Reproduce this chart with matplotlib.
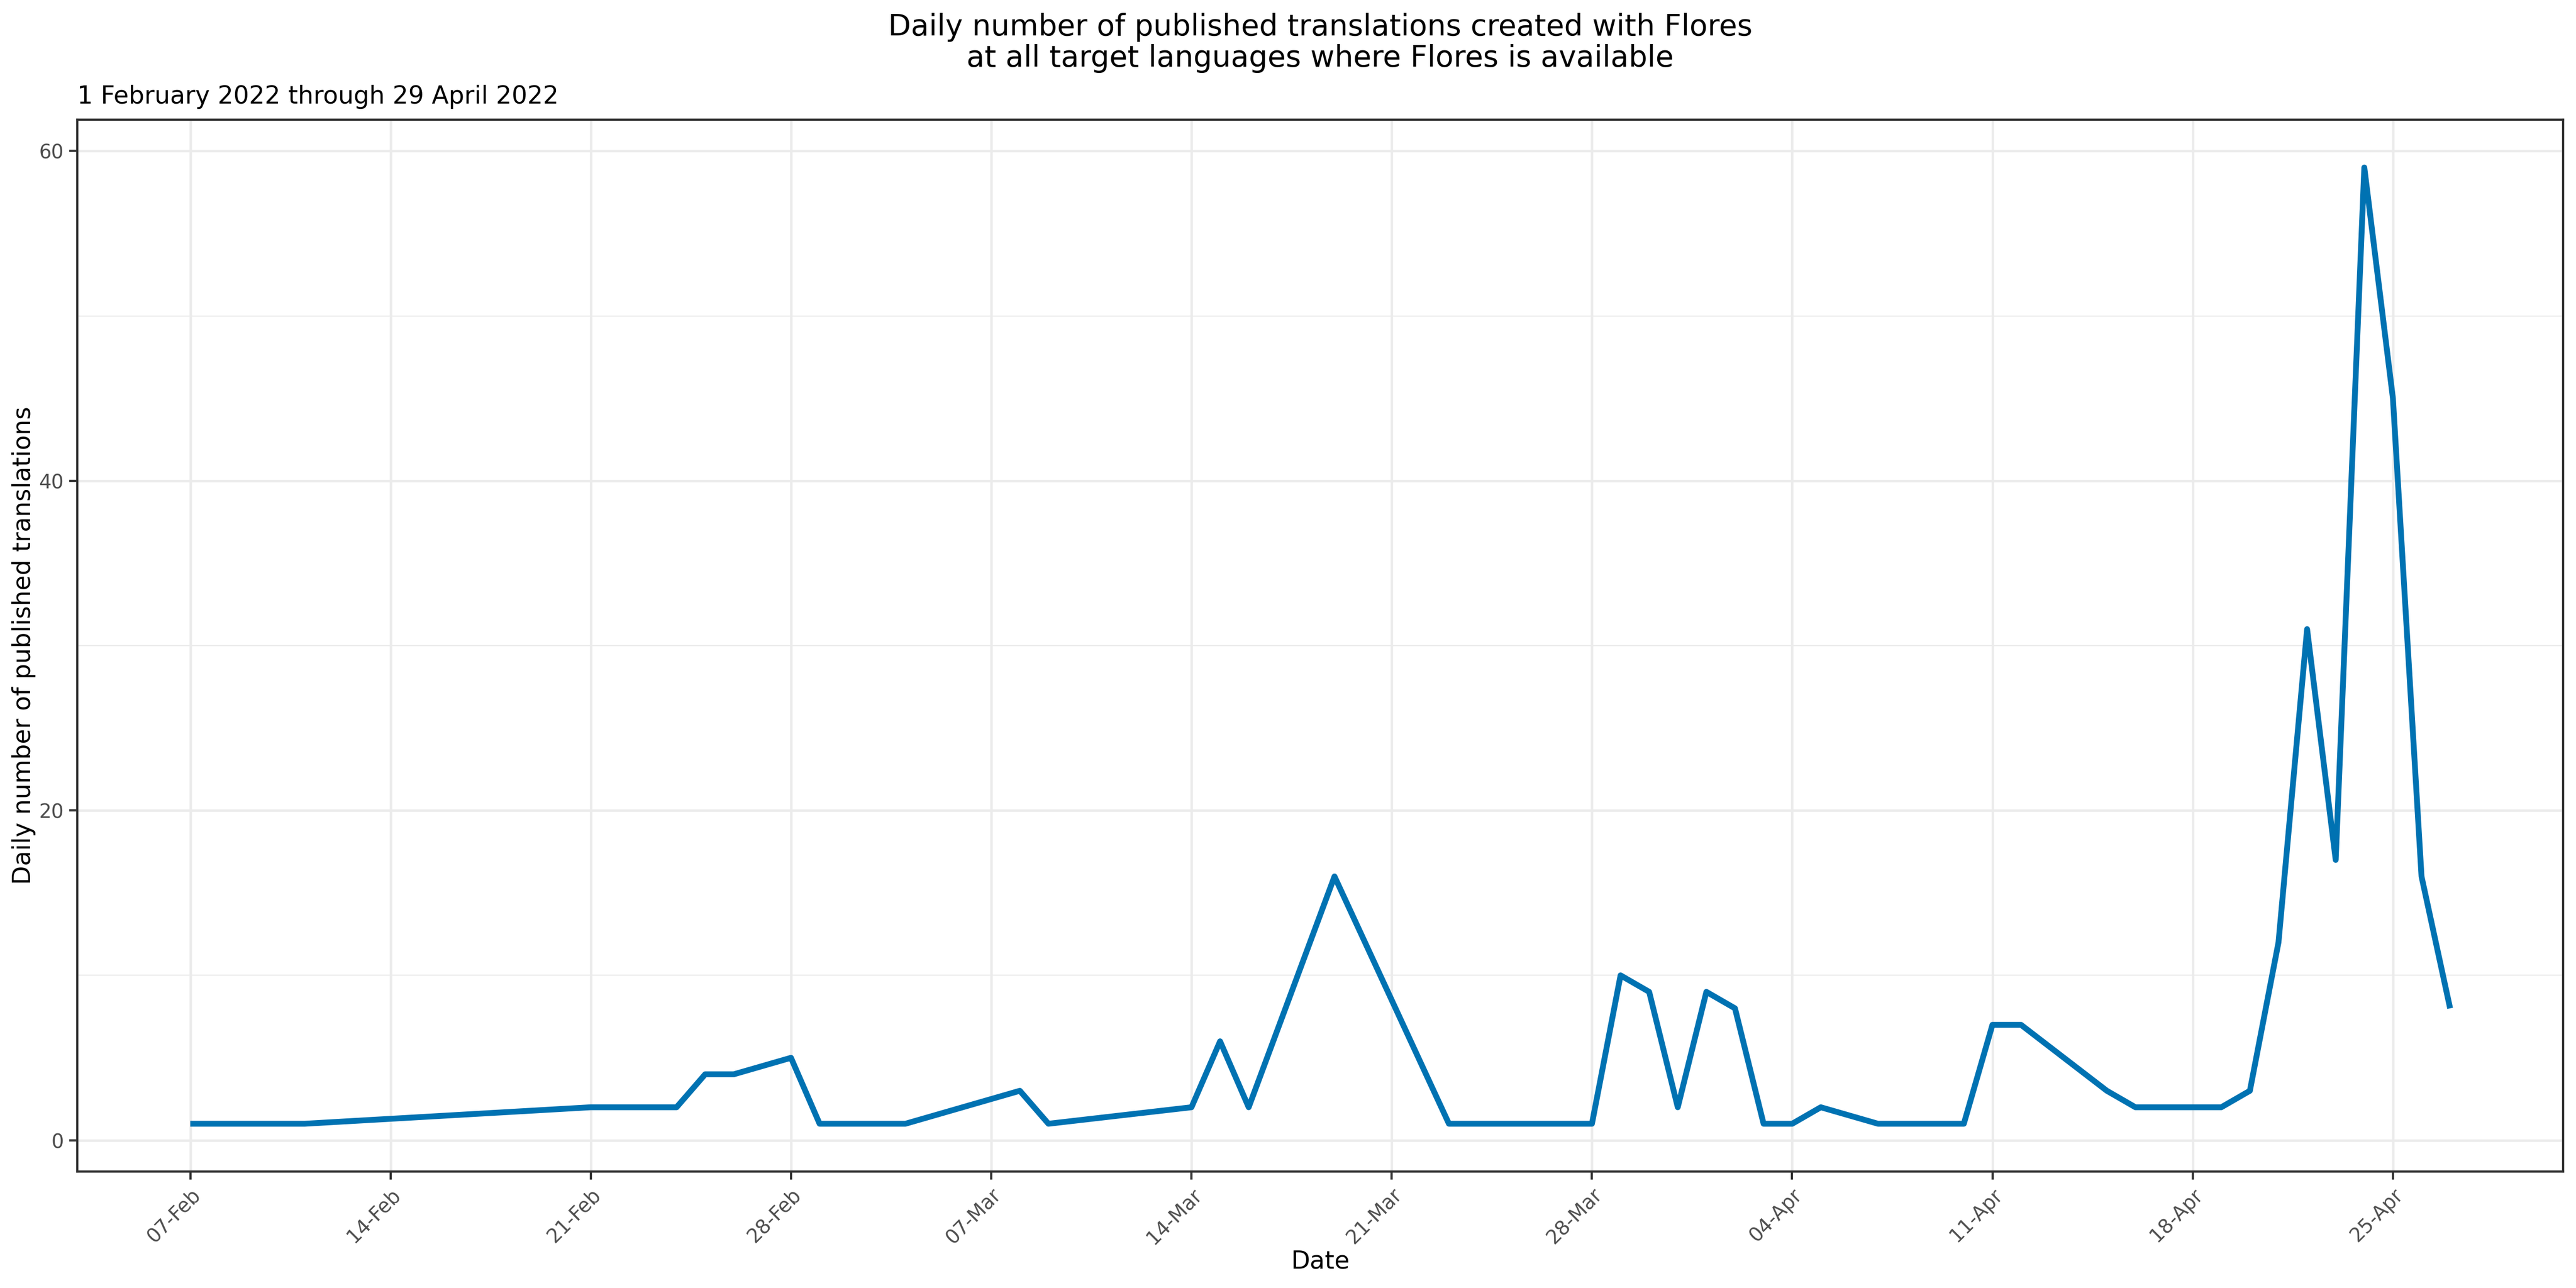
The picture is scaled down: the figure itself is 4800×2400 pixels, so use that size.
import datetime as dt

import matplotlib
matplotlib.use("Agg")
import matplotlib.pyplot as plt
import matplotlib.dates as mdates
from matplotlib.ticker import FixedLocator

# Observed daily counts (vertices of the line), 2022
dates = [
    "2022-02-07", "2022-02-11", "2022-02-21", "2022-02-24", "2022-02-25",
    "2022-02-26", "2022-02-28", "2022-03-01", "2022-03-04", "2022-03-08",
    "2022-03-09", "2022-03-14", "2022-03-15", "2022-03-16", "2022-03-19",
    "2022-03-23", "2022-03-28", "2022-03-29", "2022-03-30", "2022-03-31",
    "2022-04-01", "2022-04-02", "2022-04-03", "2022-04-04", "2022-04-05",
    "2022-04-07", "2022-04-10", "2022-04-11", "2022-04-12", "2022-04-15",
    "2022-04-16", "2022-04-19", "2022-04-20", "2022-04-21", "2022-04-22",
    "2022-04-23", "2022-04-24", "2022-04-25", "2022-04-26", "2022-04-27",
]
counts = [
    1, 1, 2, 2, 4,
    4, 5, 1, 1, 3,
    1, 2, 6, 2, 16,
    1, 1, 10, 9, 2,
    9, 8, 1, 1, 2,
    1, 1, 7, 7, 3,
    2, 2, 3, 12, 31,
    17, 59, 45, 16, 8,
]

tick_dates = ["2022-02-07", "2022-02-14", "2022-02-21", "2022-02-28",
              "2022-03-07", "2022-03-14", "2022-03-21", "2022-03-28",
              "2022-04-04", "2022-04-11", "2022-04-18", "2022-04-25"]
y_major = [0, 20, 40, 60]
y_minor = [10, 30, 50]

TITLE = ("Daily number of published translations created with Flores\n"
         "at all target languages where Flores is available")
SUBTITLE = "1 February 2022 through 29 April 2022"

plt.rcParams["font.family"] = ["DejaVu Sans"]

x = [dt.datetime.strptime(d, "%Y-%m-%d") for d in dates]
xt = [dt.datetime.strptime(d, "%Y-%m-%d") for d in tick_dates]

fig = plt.figure(figsize=(16, 8), dpi=300)
ax = fig.add_axes([0.030, 0.0904, 0.965, 0.8167])

ax.plot(x, counts, color="#0072B2", lw=2.6, solid_joinstyle="round",
        solid_capstyle="butt", zorder=3)

# ggplot-style 5% expansion
span = x[-1] - x[0]
pad = span * 0.05
ax.set_xlim(x[0] - pad, x[-1] + pad)
yr = max(counts) - min(counts)
ax.set_ylim(min(counts) - 0.05 * yr, max(counts) + 0.05 * yr)

ax.xaxis.set_major_locator(FixedLocator(mdates.date2num(xt)))
ax.xaxis.set_major_formatter(mdates.DateFormatter("%d-%b"))
ax.yaxis.set_major_locator(FixedLocator(y_major))
ax.yaxis.set_minor_locator(FixedLocator(y_minor))

ax.grid(which="major", color="#EBEBEB", lw=1.1, zorder=0)
ax.grid(which="minor", axis="y", color="#EBEBEB", lw=0.55, zorder=0)
ax.set_axisbelow(True)

for s in ax.spines.values():
    s.set_color("#333333")
    s.set_linewidth(1.0)

ax.tick_params(which="major", length=3.5, width=1.0, color="#333333",
               labelsize=8.8, labelcolor="#4D4D4D", pad=2.5)
ax.tick_params(which="minor", length=0)
for lab in ax.get_xticklabels():
    lab.set_rotation(45)
    lab.set_ha("right")
    lab.set_rotation_mode("anchor")

ax.set_xlabel("Date", fontsize=11, va="center")
ax.xaxis.set_label_coords(0.5, -0.0857)
ax.set_ylabel("Daily number of published translations", fontsize=11,
              va="center")
ax.yaxis.set_label_coords(-0.0215, 0.5)

fig.text(0.030 + 0.965 / 2, 0.990, TITLE, ha="center", va="top",
         fontsize=13.2, linespacing=1.1)
fig.text(0.030, 0.9196, SUBTITLE, ha="left", va="baseline", fontsize=11)

fig.savefig("out.png", dpi=300, facecolor="white")
